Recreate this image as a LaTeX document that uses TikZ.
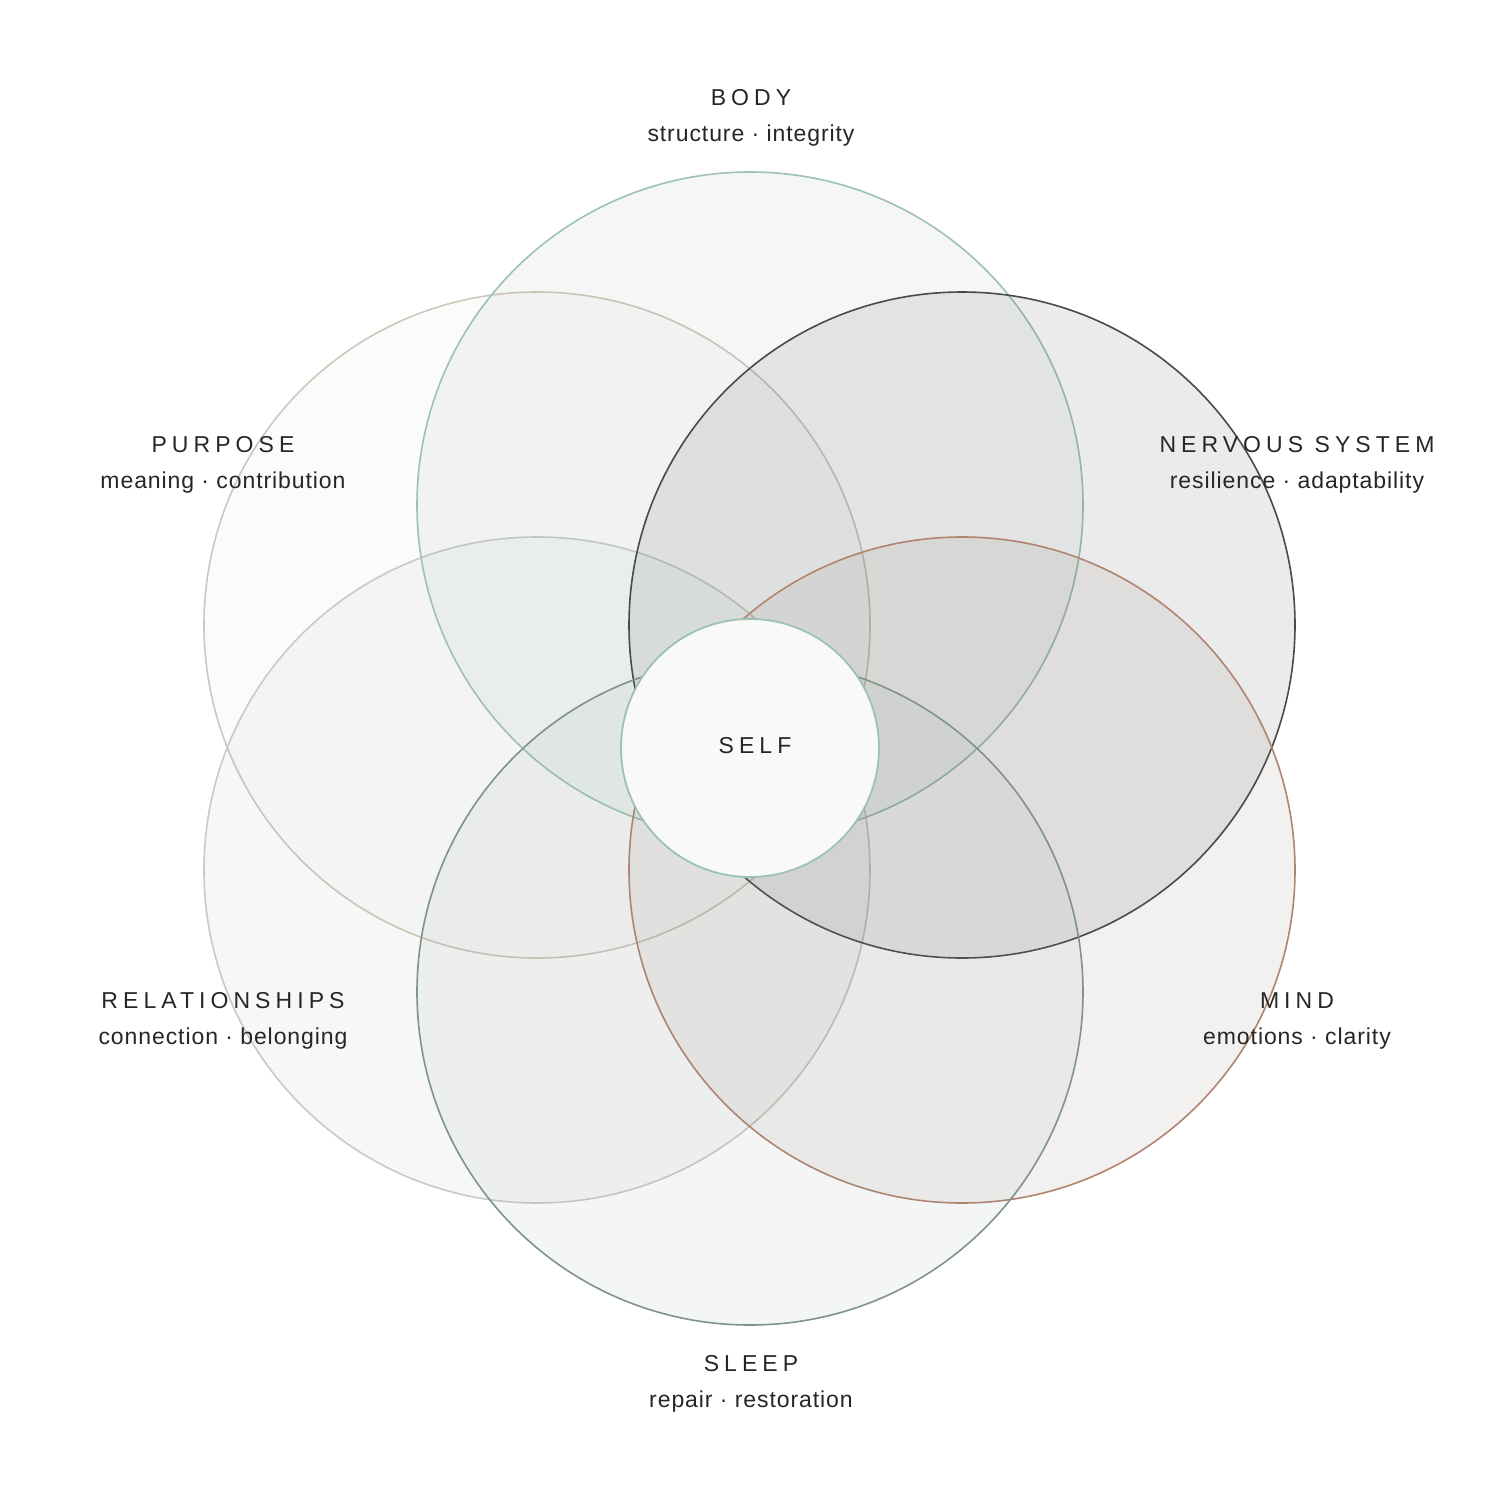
\documentclass[tikz,border=0pt]{standalone}
\usepackage{fontspec}
\setmainfont{Liberation Sans}
\newfontfamily\spaced[LetterSpace=22]{Liberation Sans}
\newfontfamily\subf[LetterSpace=4]{Liberation Sans}
\begin{document}
\begin{tikzpicture}[x=1pt,y=-1pt,
  petal/.style={line width=1.6pt, fill opacity=0.08},
  ttl/.style={font=\spaced\fontsize{23}{27}\selectfont, text=black!85},
  sub/.style={font=\subf\fontsize{23}{27}\selectfont, text=black!85}]
\definecolor{cbody}{HTML}{9DC2B2}
\definecolor{cnerv}{HTML}{4A4A4A}
\definecolor{cmind}{HTML}{B08470}
\definecolor{csleep}{HTML}{7E9489}
\definecolor{crel}{HTML}{C9CAC5}
\definecolor{cpur}{HTML}{CFC7BA}
\useasboundingbox (0,0) rectangle (1500,1500);
\fill[white] (0,0) rectangle (1500,1500);
\coordinate (cb) at (750,505);
\coordinate (cn) at (962,625);
\coordinate (cm) at (962,870);
\coordinate (cs) at (750,992);
\coordinate (cr) at (537,870);
\coordinate (cp) at (537,625);
\filldraw[petal, draw=cpur, fill=cpur!70!black!40] (cp) circle (333);
\filldraw[petal, draw=crel, fill=crel!80!black] (cr) circle (333);
\filldraw[petal, draw=cbody, fill=cbody!80!black] (cb) circle (333);
\filldraw[petal, draw=cnerv, fill=cnerv, fill opacity=0.11] (cn) circle (333);
\filldraw[petal, draw=cmind, fill=cmind!60!black] (cm) circle (333);
\filldraw[petal, draw=csleep, fill=csleep] (cs) circle (333);
\node[circle, minimum size=258pt, inner sep=0, draw=cbody, line width=1.8pt, fill=white!95!gray] (self) at (750,748) {};
\node[ttl] (selft) at (755,746) {SELF};
\node[ttl] (body) at (751,98) {BODY};
\node[sub] (bodys) at (751,136) {structure · integrity};
\node[ttl] (pur) at (223,445) {PURPOSE};
\node[sub] (purs) at (223,483) {meaning · contribution};
\node[ttl] (ner) at (1297,445) {NERVOUS SYSTEM};
\node[sub] (ners) at (1297,483) {resilience · adaptability};
\node[ttl] (rel) at (223,1001) {RELATIONSHIPS};
\node[sub] (rels) at (223,1039) {connection · belonging};
\node[ttl] (mind) at (1297,1001) {MIND};
\node[sub] (minds) at (1297,1039) {emotions · clarity};
\node[ttl] (slp) at (751,1364) {SLEEP};
\node[sub] (slps) at (751,1402) {repair · restoration};
\end{tikzpicture}
\end{document}
